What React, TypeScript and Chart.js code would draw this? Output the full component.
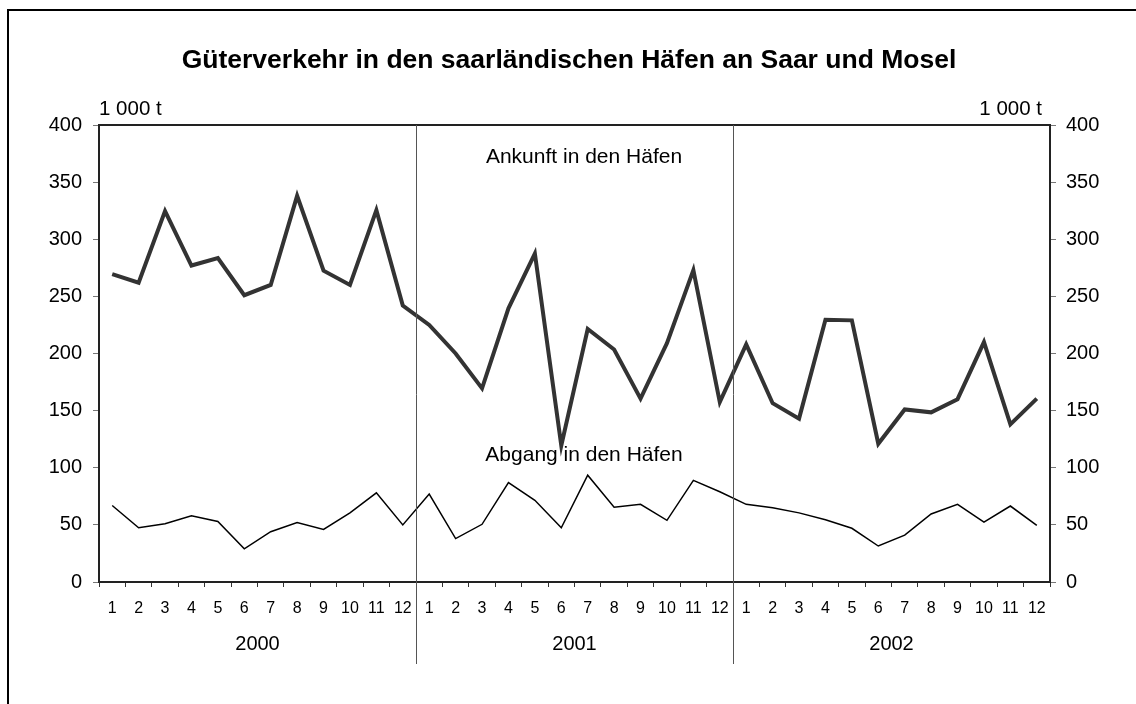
import React, { useEffect, useRef } from "react";
import { Chart, registerables } from "chart.js";

Chart.register(...registerables);

const months = ["1","2","3","4","5","6","7","8","9","10","11","12"];
const years = ["2000", "2001", "2002"];
const categories = years.flatMap((y) => months.map((m) => m));

const ankunft = [
  269.5, 262, 324.7, 277, 283.5, 251, 260, 338, 272.5, 260, 325.5, 242,
  225, 200, 169.5, 239.5, 287.5, 119.5, 221.5, 203.5, 160.5, 209, 273, 157.5,
  208, 156.5, 143, 229.5, 229, 121, 151, 148.5, 160, 210, 138, 160.5,
];

const abgang = [
  67, 47.5, 51, 58, 53, 29, 44, 52, 46, 60.5, 78, 50,
  77, 38, 50.5, 87, 71.5, 47.5, 93.5, 65.5, 68, 54, 89, 79,
  68, 65, 60.5, 54.5, 47, 31.5, 41, 59.5, 68, 52.5, 66.5, 49.5,
];

const title = "Güterverkehr in den saarländischen Häfen an Saar und Mosel";
const unitLabel = "1 000 t";
const seriesNames = ["Ankunft in den Häfen", "Abgang in den Häfen"];

const FONT = "'Liberation Sans', Arial, sans-serif";

const decorPlugin = {
  id: "decor",
  afterDraw(chart: any) {
    const ctx = chart.ctx;
    const area = chart.chartArea;
    const xs = chart.scales.x;
    ctx.save();
    // outer frame
    ctx.strokeStyle = "#000";
    ctx.lineWidth = 2;
    ctx.beginPath();
    ctx.moveTo(8, 710);
    ctx.lineTo(8, 10);
    ctx.lineTo(1140, 10);
    ctx.stroke();
    // plot top border
    ctx.strokeStyle = "#222";
    ctx.lineWidth = 2;
    ctx.beginPath();
    ctx.moveTo(area.left, area.top);
    ctx.lineTo(area.right, area.top);
    ctx.stroke();
    // year separators
    ctx.strokeStyle = "#555";
    ctx.lineWidth = 1;
    for (let i = 1; i < years.length; i++) {
      const idx = i * 12;
      const x = Math.round((xs.getPixelForTick(idx - 1) + xs.getPixelForTick(idx)) / 2) + 0.5;
      ctx.beginPath();
      ctx.moveTo(x, area.top);
      ctx.lineTo(x, 664);
      ctx.stroke();
    }
    // year labels
    ctx.fillStyle = "#000";
    ctx.font = `20px ${FONT}`;
    ctx.textAlign = "center";
    ctx.textBaseline = "alphabetic";
    years.forEach((y, i) => {
      const x = (xs.getPixelForTick(i * 12 + 5) + xs.getPixelForTick(i * 12 + 6)) / 2;
      ctx.fillText(y, x, 650);
    });
    // title
    ctx.font = `bold 26.5px ${FONT}`;
    ctx.fillText(title, 569, 68);
    // unit labels
    ctx.font = `20.5px ${FONT}`;
    ctx.textAlign = "left";
    ctx.fillText(unitLabel, area.left, 115);
    ctx.textAlign = "right";
    ctx.fillText(unitLabel, area.right - 8, 115);
    // series labels
    ctx.font = `21px ${FONT}`;
    ctx.textAlign = "center";
    ctx.fillText(seriesNames[0], 584, 163);
    ctx.fillText(seriesNames[1], 584, 461);
    ctx.restore();
  },
};

export default function App() {
  const ref = useRef<HTMLCanvasElement | null>(null);
  useEffect(() => {
    if (!ref.current) return;
    const yTicks = {
      stepSize: 50,
      font: { family: FONT, size: 20 },
      color: "#000",
    };
    const chart = new Chart(ref.current, {
      type: "line",
      data: {
        labels: categories,
        datasets: [
          {
            label: seriesNames[0],
            data: ankunft,
            borderColor: "#333333",
            borderWidth: 4,
            pointRadius: 0,
            tension: 0,
            borderJoinStyle: "miter",
            yAxisID: "y",
          },
          {
            label: seriesNames[1],
            data: abgang,
            borderColor: "#000000",
            borderWidth: 1.5,
            pointRadius: 0,
            tension: 0,
            yAxisID: "y",
          },
        ],
      },
      options: {
        responsive: false,
        animation: false,
        events: [],
        layout: { padding: { top: 125, left: 0, right: 0, bottom: 0 } },
        plugins: {
          legend: { display: false },
          tooltip: { enabled: false },
          title: { display: false },
        },
        scales: {
          x: {
            type: "category",
            offset: true,
            position: "bottom",
            grid: {
              display: true,
              drawOnChartArea: false,
              drawTicks: true,
              tickLength: 5,
              offset: true,
              color: "#333",
            },
            border: { display: true, color: "#222", width: 2 },
            ticks: {
              autoSkip: false,
              maxRotation: 0,
              minRotation: 0,
              padding: 12,
              color: "#000",
              font: { family: FONT, size: 16 },
            },
            afterFit: (s: any) => {
              s.height = 122;
            },
          },
          y: {
            position: "left",
            min: 0,
            max: 400,
            grid: { drawOnChartArea: false, drawTicks: true, tickLength: 6, color: "#777" },
            border: { display: true, color: "#222", width: 2 },
            ticks: { ...yTicks, padding: 11 },
            afterFit: (s: any) => {
              s.width = 99;
            },
          },
          y2: {
            position: "right",
            min: 0,
            max: 400,
            grid: { drawOnChartArea: false, drawTicks: true, tickLength: 6, color: "#777" },
            border: { display: true, color: "#222", width: 2 },
            ticks: { ...yTicks, padding: 10 },
            afterFit: (s: any) => {
              s.width = 86;
            },
          },
        },
      },
      plugins: [decorPlugin],
    } as any);
    return () => chart.destroy();
  }, []);

  return (
    <div style={{ position: "absolute", left: 0, top: 0, width: 1136, height: 704, background: "#fff" }}>
      <canvas ref={ref} width={1136} height={704} style={{ display: "block" }} />
    </div>
  );
}
